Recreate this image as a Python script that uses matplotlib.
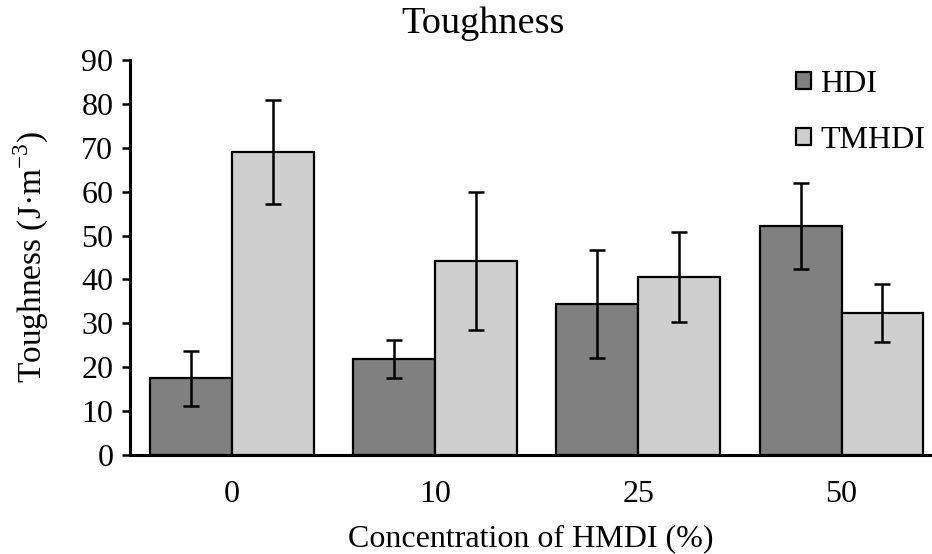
import matplotlib
matplotlib.use("Agg")
import matplotlib.pyplot as plt
import numpy as np

categories = ["0", "10", "25", "50"]
hdi = [17.5, 21.9, 34.4, 52.2]
hdi_err = [6.3, 4.3, 12.4, 9.8]
tmhdi = [69.0, 44.2, 40.5, 32.3]
tmhdi_err = [11.8, 15.8, 10.3, 6.6]
yticks = [0, 10, 20, 30, 40, 50, 60, 70, 80, 90]

plt.rcParams['font.family'] = ['Liberation Serif', 'DejaVu Serif']
plt.rcParams['mathtext.fontset'] = 'custom'
plt.rcParams['mathtext.rm'] = 'Liberation Serif'

fig = plt.figure(figsize=(9.32, 5.54), dpi=100)
ax = fig.add_axes([130/932, 99/554, 1 - 130/932, (455-60)/554])

x = np.arange(len(categories))
w = 0.403
ekw = dict(elinewidth=1.8, capthick=1.8, ecolor='black')
ax.bar(x - w/2, hdi, w, yerr=hdi_err, capsize=6, color='#808080',
       edgecolor='black', linewidth=1.6, label='HDI', error_kw=ekw)
ax.bar(x + w/2, tmhdi, w, yerr=tmhdi_err, capsize=6, color='#d0cfd0',
       edgecolor='black', linewidth=1.6, label='TMHDI', error_kw=ekw)

ax.set_xlim(-0.5, 3.445)
ax.set_ylim(0, 90)
ax.set_yticks(yticks)
ax.set_xticks(x)
ax.set_xticklabels(categories)
ax.tick_params(axis='y', direction='out', length=6, width=1.8, labelsize=23, pad=6)
ax.tick_params(axis='x', length=0, labelsize=23, pad=18)
for s in ['top', 'right']:
    ax.spines[s].set_visible(False)
for s in ['left', 'bottom']:
    ax.spines[s].set_linewidth(2.2)

fig.text(483/932, 1 - 33/554, 'Toughness', fontsize=27.5, ha='center', va='baseline')
ax.set_xlabel('Concentration of HMDI (%)', fontsize=23, va='baseline')
ax.xaxis.set_label_coords(0.5, -(546 - 455) / 395)
ax.set_ylabel(r'Toughness (J·m$^{\mathregular{-3}}$)', fontsize=24, labelpad=22)

leg = ax.legend(loc='upper right', bbox_to_anchor=(1.0 + 22/802, 1.048), frameon=False,
                fontsize=23, handlelength=0.45, handleheight=0.45,
                handletextpad=0.3, labelspacing=0.85)

fig.savefig('out.png', dpi=100)
